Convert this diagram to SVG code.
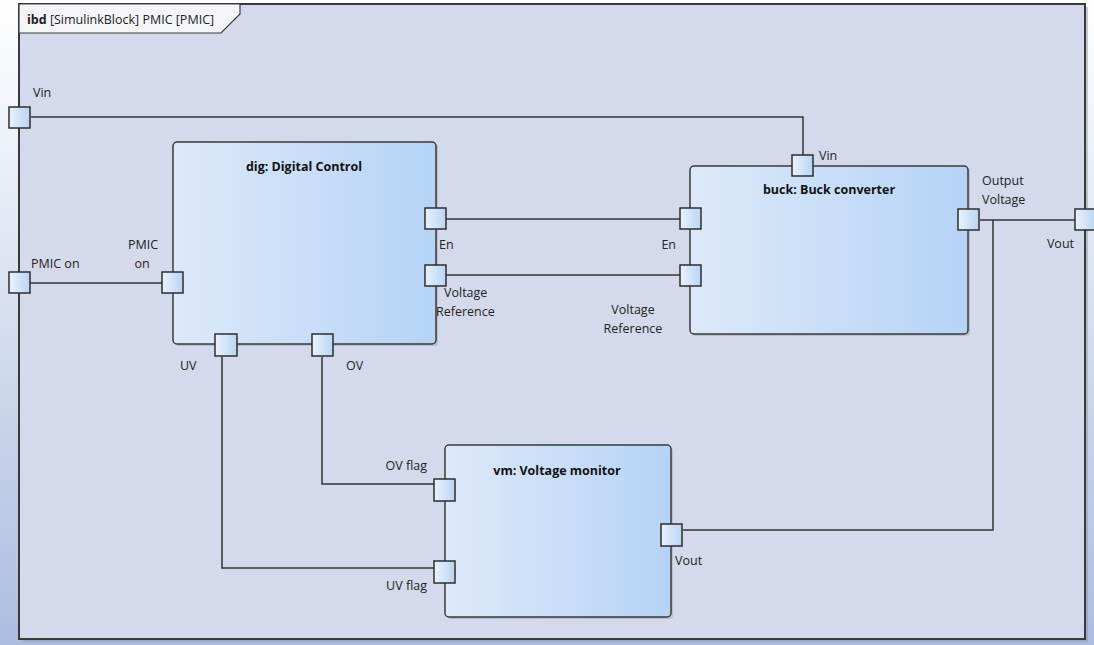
<svg xmlns="http://www.w3.org/2000/svg" width="1094" height="645" viewBox="0 0 1094 645">
<defs>
<linearGradient id="bg" x1="0" y1="0" x2="0" y2="1">
<stop offset="0" stop-color="#ffffff"/>
<stop offset="1" stop-color="#acbde0"/>
</linearGradient>
<linearGradient id="blk" x1="0" y1="0" x2="1" y2="0">
<stop offset="0" stop-color="#dde9fa"/>
<stop offset="1" stop-color="#b5d3f6"/>
</linearGradient>
<linearGradient id="prt" x1="0" y1="0" x2="1" y2="0">
<stop offset="0" stop-color="#e9f2fc"/>
<stop offset="1" stop-color="#b9d5f3"/>
</linearGradient>
<style>
.frame{fill:#d4daeb;stroke:#3a3a3a;stroke-width:2}
.blk{fill:url(#blk);stroke:#3a3a3a;stroke-width:1.5}
.shd{fill:#9aa3b8;opacity:0.5}
.prt{fill:url(#prt);stroke:#2e2e2e;stroke-width:1.5}
.wire{fill:none;stroke:#333;stroke-width:1.5}
.t{font-family:"Open Sans","Liberation Sans",sans-serif;font-size:12.5px;fill:#222}
.title{font-family:"Open Sans","Liberation Sans",sans-serif;font-size:12.5px;font-weight:bold;fill:#111}
</style>
</defs>
<rect x="0" y="0" width="1094" height="645" fill="url(#bg)"/>
<g id="frame">
<rect x="22" y="7" width="1066" height="635" fill="#8f97a8" opacity="0.5"/>
<rect class="frame" x="19" y="4" width="1066" height="635"/>
<path d="M19,4 H240 V14 L221,33 H19 Z" fill="#f4f5f9" stroke="#3a3a3a" stroke-width="1.2"/>
<text x="27" y="24" class="t"><tspan font-weight="bold">ibd</tspan> [SimulinkBlock] PMIC [PMIC]</text>
</g>
<g id="connectors">
<polyline class="wire" points="31,117 803,117 803,155"/>
<polyline class="wire" points="30,283 162,283"/>
<polyline class="wire" points="446,219 680,219"/>
<polyline class="wire" points="446,275 680,275"/>
<polyline class="wire" points="980,220 1075,220"/>
<polyline class="wire" points="993,220 993,530 683,530"/>
<polyline class="wire" points="222,357 222,568 434,568"/>
<polyline class="wire" points="322,357 322,484 434,484"/>
</g>
<g id="dig">
<rect class="shd" x="175" y="144" width="263" height="202" rx="4"/>
<rect class="blk" x="173" y="142" width="263" height="202" rx="4"/>
<text x="304" y="171" class="title" text-anchor="middle">dig: Digital Control</text>
</g>
<g id="buck">
<rect class="shd" x="692" y="168" width="278" height="168" rx="4"/>
<rect class="blk" x="690" y="166" width="278" height="168" rx="4"/>
<text x="829" y="194" class="title" text-anchor="middle">buck: Buck converter</text>
</g>
<g id="vm">
<rect class="shd" x="447" y="447" width="226" height="172" rx="4"/>
<rect class="blk" x="445" y="445" width="226" height="172" rx="4"/>
<text x="557" y="475" class="title" text-anchor="middle">vm: Voltage monitor</text>
</g>
<g id="port-frame-vin">
<rect class="prt" x="9" y="107" width="21" height="21"/>
<text x="33" y="97" class="t">Vin</text>
</g>
<g id="port-frame-pmicon">
<rect class="prt" x="9" y="272" width="21" height="21"/>
<text x="31" y="268" class="t">PMIC on</text>
</g>
<g id="port-frame-vout">
<rect class="prt" x="1075" y="209" width="21" height="21"/>
<text x="1074" y="248" class="t" text-anchor="end">Vout</text>
</g>
<g id="port-dig-pmicon">
<rect class="prt" x="162" y="272" width="21" height="21"/>
<text x="143" y="249" class="t" text-anchor="middle">PMIC</text>
<text x="142" y="268" class="t" text-anchor="middle">on</text>
</g>
<g id="port-dig-en">
<rect class="prt" x="425" y="208" width="21" height="21"/>
<text x="439" y="249" class="t">En</text>
</g>
<g id="port-dig-vref">
<rect class="prt" x="425" y="265" width="21" height="21"/>
<text x="444" y="297" class="t">Voltage</text>
<text x="436" y="316" class="t">Reference</text>
</g>
<g id="port-dig-uv">
<rect class="prt" x="215" y="334" width="22" height="22"/>
<text x="180" y="370" class="t">UV</text>
</g>
<g id="port-dig-ov">
<rect class="prt" x="312" y="334" width="21" height="22"/>
<text x="346" y="370" class="t">OV</text>
</g>
<g id="port-buck-vin">
<rect class="prt" x="792" y="155" width="21" height="21"/>
<text x="819" y="160" class="t">Vin</text>
</g>
<g id="port-buck-en">
<rect class="prt" x="680" y="208" width="21" height="21"/>
<text x="676" y="249" class="t" text-anchor="end">En</text>
</g>
<g id="port-buck-vref">
<rect class="prt" x="680" y="265" width="21" height="21"/>
<text x="633" y="314" class="t" text-anchor="middle">Voltage</text>
<text x="633" y="333" class="t" text-anchor="middle">Reference</text>
</g>
<g id="port-buck-out">
<rect class="prt" x="958" y="209" width="21" height="21"/>
<text x="982" y="185" class="t">Output</text>
<text x="982" y="204" class="t">Voltage</text>
</g>
<g id="port-vm-ov">
<rect class="prt" x="434" y="479" width="21" height="22"/>
<text x="427" y="470" class="t" text-anchor="end">OV flag</text>
</g>
<g id="port-vm-uv">
<rect class="prt" x="434" y="561" width="21" height="22"/>
<text x="427" y="590" class="t" text-anchor="end">UV flag</text>
</g>
<g id="port-vm-vout">
<rect class="prt" x="661" y="524" width="21" height="22"/>
<text x="675" y="565" class="t">Vout</text>
</g>
</svg>
